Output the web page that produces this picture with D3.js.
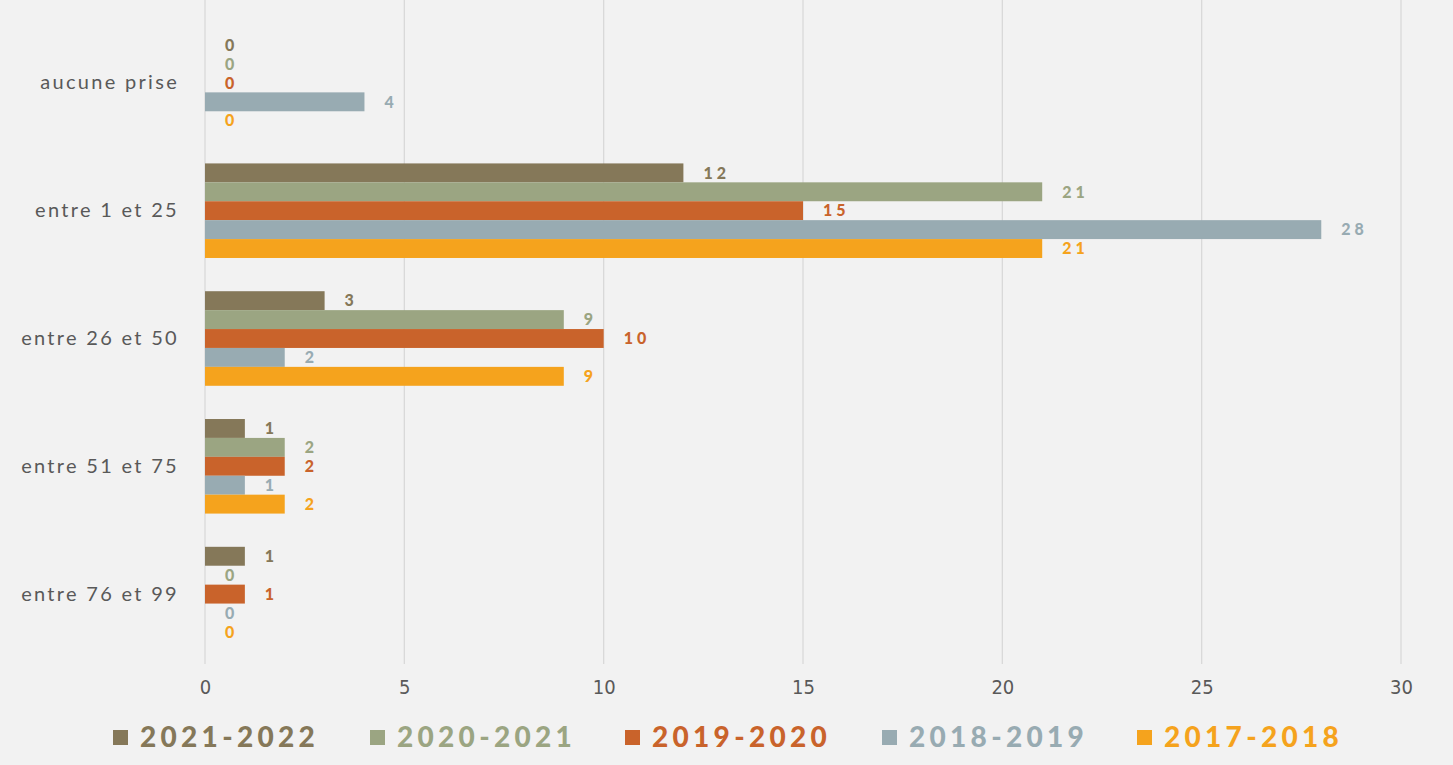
<!DOCTYPE html>
<html>
<head>
<meta charset="utf-8">
<script src="https://cdn.jsdelivr.net/npm/d3@7"></script>
<style>
  html, body { margin: 0; padding: 0; background: #f2f2f2; }
  svg { display: block; }
</style>
</head>
<body>
<svg id="chart" width="1453" height="765"></svg>
<script>
// Categories (number of catches) and seasons
const categories = ["aucune prise", "entre 1 et 25", "entre 26 et 50", "entre 51 et 75", "entre 76 et 99"];
const seasons = ["2021-2022", "2020-2021", "2019-2020", "2018-2019", "2017-2018"];
const seasonColors = ["#857859", "#9ba582", "#c9632b", "#98abb2", "#f5a31d"];

// Values per season, in the order of categories
const v2021_2022 = [0, 12, 3, 1, 1];
const v2020_2021 = [0, 21, 9, 2, 0];
const v2019_2020 = [0, 15, 10, 2, 1];
const v2018_2019 = [4, 28, 2, 1, 0];
const v2017_2018 = [0, 21, 9, 2, 0];
const seriesValues = [v2021_2022, v2020_2021, v2019_2020, v2018_2019, v2017_2018];

const xTicks = [0, 5, 10, 15, 20, 25, 30];

const svg = d3.select("#chart");
const W = 1453, H = 765;
const margin = { left: 205, right: 52, top: 19, bottom: 107 };

svg.append("rect").attr("width", W).attr("height", H).attr("fill", "#f2f2f2");

const x = d3.scaleLinear().domain([0, 30]).range([margin.left, W - margin.right]);
const y = d3.scaleBand().domain(categories).range([margin.top, H - margin.bottom]).paddingInner(0.26).paddingOuter(0.13);
const ySub = d3.scaleBand().domain(seasons).range([0, y.bandwidth()]);

// Vertical gridlines
svg.append("g")
  .selectAll("line")
  .data(xTicks)
  .join("line")
  .attr("x1", d => x(d)).attr("x2", d => x(d))
  .attr("y1", 0).attr("y2", H - margin.bottom + 6)
  .attr("stroke", "#d9d9d9").attr("stroke-width", 1.3);

// X axis labels
const xAxis = d3.axisBottom(x).tickValues(xTicks).tickSize(0).tickPadding(18);
const gx = svg.append("g").attr("transform", `translate(0,${H - margin.bottom + 4})`).call(xAxis);
gx.select(".domain").remove();
gx.selectAll("text")
  .attr("font-family", "'Liberation Sans Narrow', 'DejaVu Sans Condensed', sans-serif")
  .attr("font-size", 20).attr("fill", "#595959");

// Category labels
const yAxis = d3.axisLeft(y).tickSize(0).tickPadding(26);
const gy = svg.append("g").attr("transform", `translate(${margin.left},0)`).call(yAxis);
gy.select(".domain").remove();
gy.selectAll("text")
  .attr("font-family", "Lato, 'Open Sans', sans-serif")
  .attr("font-size", 20).attr("fill", "#595959").attr("letter-spacing", 2.3);

// Bars and value labels
const rows = [];
seasons.forEach((s, si) => {
  categories.forEach((c, ci) => rows.push({ season: s, si, cat: c, value: seriesValues[si][ci] }));
});

const groups = svg.append("g");
groups.selectAll("rect")
  .data(rows)
  .join("rect")
  .attr("x", x(0))
  .attr("y", d => y(d.cat) + ySub(d.season))
  .attr("width", d => x(d.value) - x(0))
  .attr("height", ySub.bandwidth())
  .attr("fill", d => seasonColors[d.si]);

groups.selectAll("text")
  .data(rows)
  .join("text")
  .attr("x", d => x(d.value) + 20)
  .attr("y", d => y(d.cat) + ySub(d.season) + ySub.bandwidth() / 2)
  .attr("dy", "0.36em")
  .attr("font-family", "Lato, 'Open Sans', sans-serif")
  .attr("font-weight", 900)
  .attr("font-size", 16)
  .attr("letter-spacing", 4)
  .attr("fill", d => seasonColors[d.si])
  .text(d => d.value);

// Legend
const legendX = [113, 370, 625, 882, 1137];
const legend = svg.append("g").attr("transform", "translate(0,737)");
const items = legend.selectAll("g")
  .data(seasons)
  .join("g")
  .attr("transform", (d, i) => `translate(${legendX[i]},0)`);
items.append("rect")
  .attr("x", 0).attr("y", -7).attr("width", 15).attr("height", 15)
  .attr("fill", (d, i) => seasonColors[i]);
items.append("text")
  .attr("x", 27).attr("y", 0).attr("dy", "0.36em")
  .attr("font-family", "Lato, 'Open Sans', sans-serif")
  .attr("font-weight", 900)
  .attr("font-size", 28)
  .attr("letter-spacing", 4.3)
  .attr("fill", (d, i) => seasonColors[i])
  .text(d => d);
</script>
</body>
</html>
